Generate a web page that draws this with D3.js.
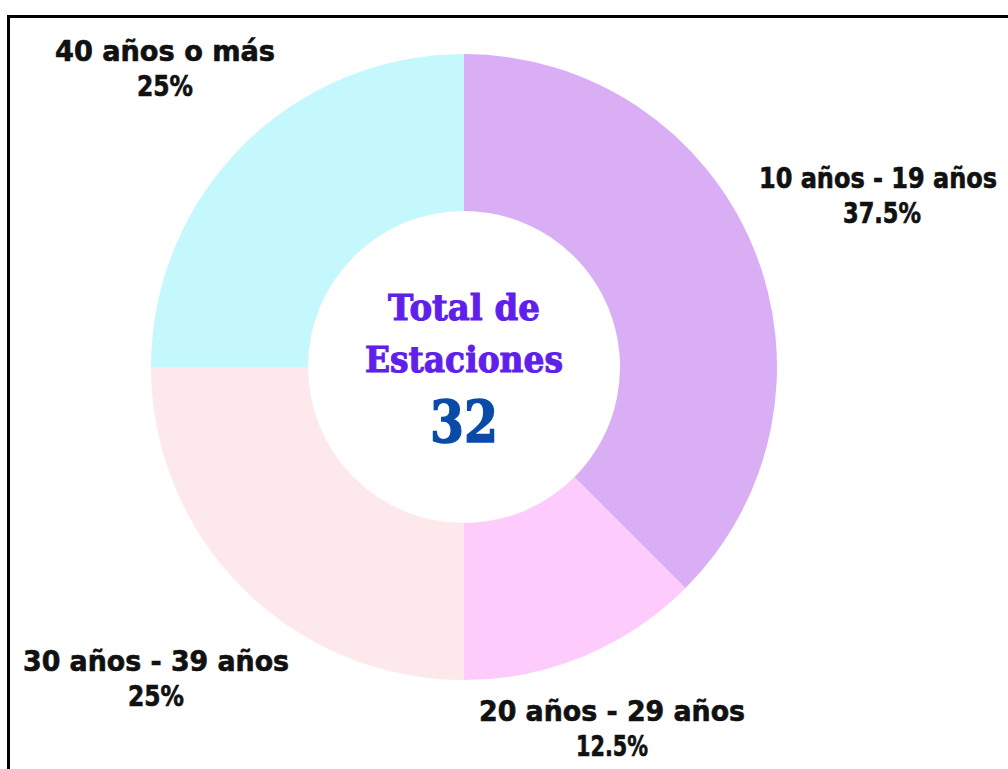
<!DOCTYPE html>
<html><head><meta charset="utf-8">
<script src="https://cdn.jsdelivr.net/npm/d3@7"></script>
<style>
html,body{margin:0;padding:0;background:#fff;overflow:hidden}
</style></head>
<body>
<svg id="chart" width="1008" height="769"></svg>
<script>
const categories = ["10 años - 19 años", "20 años - 29 años", "30 años - 39 años", "40 años o más"];
const values = [12, 4, 8, 8];
const percentLabels = ["37.5%", "12.5%", "25%", "25%"];
const colors = ["#D9AEF5", "#FDCCFD", "#FDE9EC", "#C4F8FC"];
const totalTitle = ["Total de", "Estaciones"];
const total = 32;

const svg = d3.select("#chart");
const cx = 464, cy = 367, outerR = 313, innerR = 156;

svg.append("rect").attr("x", 8.5).attr("y", 16.5).attr("width", 1100).attr("height", 900)
  .attr("fill", "none").attr("stroke", "#000").attr("stroke-width", 3);

const pie = d3.pie().sort(null).value(d => d);
const arc = d3.arc().innerRadius(innerR).outerRadius(outerR);
const g = svg.append("g").attr("transform", `translate(${cx},${cy})`);
g.selectAll("path").data(pie(values)).join("path")
  .attr("d", arc).attr("fill", (d, i) => colors[i]);

// label positions (center x, baseline of first line)
const labelPos = [[878, 188], [612, 721], [156, 671], [165, 61]];
const labelWidths = [238, 266, 266, 220];
const pctWidths = [78, 72, 56, 56];
const lg = svg.append("g").attr("font-family", "'DejaVu Sans Condensed','DejaVu Sans',sans-serif")
  .attr("font-weight", "bold").attr("font-size", 28).attr("fill", "#111")
  .attr("stroke", "#111").attr("stroke-width", 0.6).attr("text-anchor", "middle");
categories.forEach((c, i) => {
  const [x, y] = labelPos[i];
  lg.append("text").attr("x", x).attr("y", y).attr("textLength", labelWidths[i])
    .attr("lengthAdjust", "spacingAndGlyphs").text(c);
  lg.append("text").attr("x", x + (i === 0 ? 4 : 0)).attr("y", y + 35).attr("textLength", pctWidths[i])
    .attr("lengthAdjust", "spacingAndGlyphs").text(percentLabels[i]);
});

const cg = svg.append("g").attr("text-anchor", "middle")
  .attr("font-family", "'DejaVu Serif','Liberation Serif',serif").attr("font-weight", "bold");
cg.append("text").attr("x", cx).attr("y", 320).attr("font-size", 35).attr("fill", "#6020EC")
  .attr("stroke", "#6020EC").attr("stroke-width", 1)
  .attr("textLength", 152).attr("lengthAdjust", "spacingAndGlyphs").text(totalTitle[0]);
cg.append("text").attr("x", cx).attr("y", 372).attr("font-size", 35).attr("fill", "#6020EC")
  .attr("stroke", "#6020EC").attr("stroke-width", 1)
  .attr("textLength", 198).attr("lengthAdjust", "spacingAndGlyphs").text(totalTitle[1]);
cg.append("text").attr("x", cx).attr("y", 442).attr("font-size", 58).attr("fill", "#0A4BAA")
  .attr("stroke", "#0A4BAA").attr("stroke-width", 1.5)
  .attr("textLength", 68).attr("lengthAdjust", "spacingAndGlyphs").text(total);
</script>
</body></html>
